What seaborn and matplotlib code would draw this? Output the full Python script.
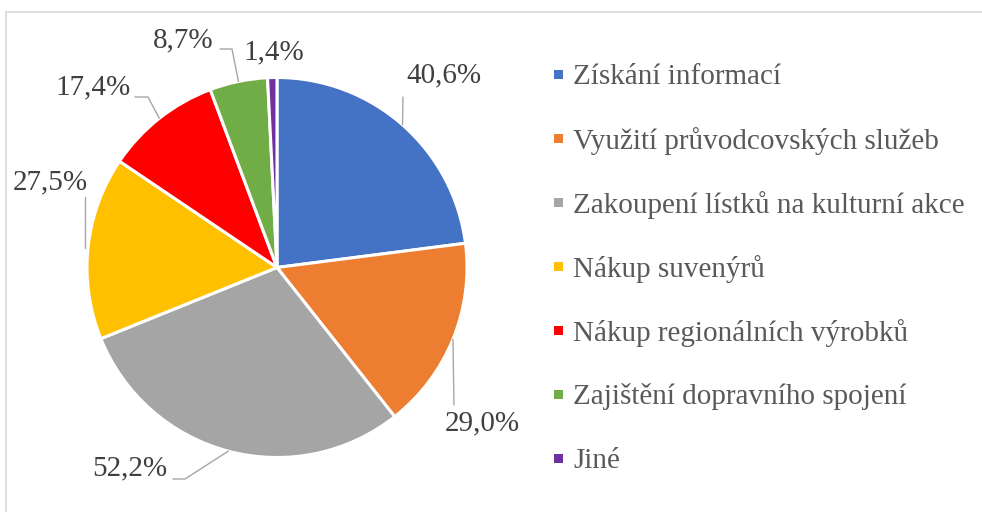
import numpy as np
import matplotlib

matplotlib.use("Agg")
import matplotlib.pyplot as plt
import seaborn as sns
from matplotlib.patches import Rectangle

categories = [
    "Získání informací",
    "Využití průvodcovských služeb",
    "Zakoupení lístků na kulturní akce",
    "Nákup suvenýrů",
    "Nákup regionálních výrobků",
    "Zajištění dopravního spojení",
    "Jiné",
]
percent = [40.6, 29.0, 52.2, 27.5, 17.4, 8.7, 1.4]
colors = ["#4472C4", "#ED7D31", "#A5A5A5", "#FFC000", "#FF0000", "#70AD47", "#7030A0"]

# layout (pixels in a 982x512 canvas)
W, H = 982, 512
CX, CY, R = 277, 267.5, 190
label_pos = [(444, 75), (482, 423), (130, 468), (50, 182), (93, 87), (183, 40), (274, 52)]
# leader start points near the label; None = no leader; end point None = wedge mid on edge
leaders = [
    ([(403, 97)], None),
    ([(454, 405)], None),
    ([(173, 479), (185, 479)], None),
    ([(85, 197)], (85, 248)),
    ([(135, 97), (148, 97)], None),
    ([(220, 49), (232, 49)], None),
    None,
]
legend_x, legend_y0, legend_step = 573, 74, 64
FS = 21

sns.set_style("white")
plt.rcParams["font.family"] = ["Liberation Serif", "DejaVu Serif"]


def fx(x):
    return x / W


def fy(y):
    return 1 - y / H


fig = plt.figure(figsize=(W / 100, H / 100), dpi=100)
fig.patch.set_facecolor("white")

ax = fig.add_axes([fx(CX - R), fy(CY + R), 2 * R / W, 2 * R / H])
wedges, _ = ax.pie(
    percent,
    colors=colors,
    startangle=90,
    counterclock=False,
    radius=1,
    wedgeprops=dict(edgecolor="white", linewidth=2.2),
)
ax.set_xlim(-1, 1)
ax.set_ylim(-1, 1)
ax.axis("off")

for val, pos in zip(percent, label_pos):
    txt = f"{val:.1f}".replace(".", ",") + "%"
    fig.text(fx(pos[0]), fy(pos[1]), txt, ha="center", va="center",
             fontsize=FS, color="#404040")

for wedge, ld in zip(wedges, leaders):
    if ld is None:
        continue
    pts, end = ld
    if end is None:
        mid = np.deg2rad((wedge.theta1 + wedge.theta2) / 2)
        end = (CX + R * np.cos(mid), CY - R * np.sin(mid))
    pts = pts + [end]
    fig.add_artist(plt.Line2D([fx(p[0]) for p in pts], [fy(p[1]) for p in pts],
                              color="#A6A6A6", lw=1.0, transform=fig.transFigure))

for i, (name, col) in enumerate(zip(categories, colors)):
    y = legend_y0 + i * legend_step
    fig.add_artist(Rectangle((fx(554), fy(y + 4.5)), 9 / W, 9 / H, facecolor=col,
                             edgecolor="none", transform=fig.transFigure))
    fig.text(fx(legend_x), fy(y), name, ha="left", va="center_baseline",
             fontsize=FS, color="#595959")

fig.add_artist(Rectangle((fx(6), fy(530)), 1.1, (530 - 12) / H, facecolor="none",
                         edgecolor="#D9D9D9", lw=1.2, transform=fig.transFigure))

fig.savefig("out.png", dpi=100)
